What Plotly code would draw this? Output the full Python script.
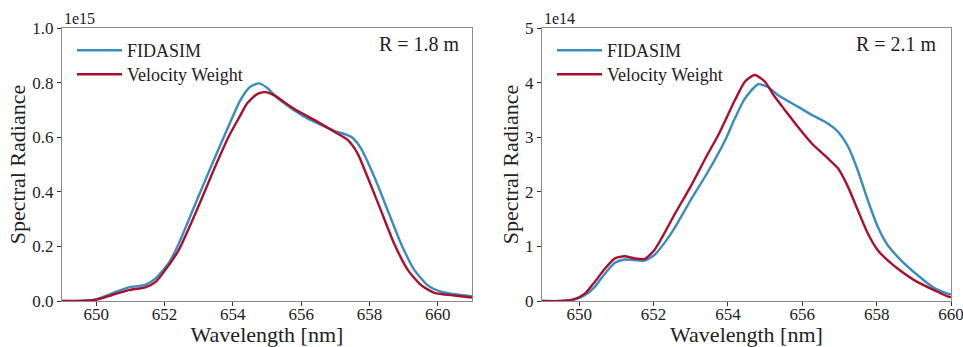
import plotly.graph_objects as go

# Left panel: R = 1.8 m (units 1e15)
wl_L_fid = [649.0, 649.5, 649.98, 650.47, 650.95, 651.44, 651.74, 652.13, 652.42, 652.91, 653.40, 653.89,
            654.22, 654.51, 654.76, 655.0, 655.3, 655.78, 656.2, 656.6, 656.97, 657.3, 657.5, 657.75, 658.14,
            658.53, 658.92, 659.31, 659.70, 660.09, 660.48, 661.0]
fid_L = [0.0, 0.0, 0.006, 0.028, 0.05, 0.059, 0.083, 0.14, 0.211, 0.358, 0.504, 0.645,
         0.736, 0.785, 0.797, 0.781, 0.744, 0.700, 0.668, 0.644, 0.623, 0.610, 0.598, 0.559, 0.455,
         0.333, 0.211, 0.114, 0.058, 0.034, 0.025, 0.018]
wl_L_vw = [649.0, 649.5, 649.98, 650.47, 650.95, 651.44, 651.74, 652.13, 652.42, 652.91, 653.40, 653.89,
           654.22, 654.42, 654.71, 654.95, 655.2, 655.78, 656.47, 656.97, 657.36, 657.65, 657.94, 658.33,
           658.72, 659.12, 659.51, 659.9, 660.48, 661.0]
vw_L = [0.0, 0.0, 0.004, 0.022, 0.04, 0.05, 0.07, 0.132, 0.187, 0.322, 0.468, 0.605,
        0.680, 0.724, 0.758, 0.765, 0.754, 0.705, 0.657, 0.620, 0.590, 0.541, 0.455, 0.333,
        0.211, 0.114, 0.058, 0.030, 0.020, 0.013]

# Right panel: R = 2.1 m (units 1e14)
wl_R_fid = [649.0, 649.5, 649.89, 650.16, 650.42, 650.69, 650.96, 651.22, 651.49, 651.76, 652.02, 652.29,
            652.56, 653.0, 653.44, 653.93, 654.19, 654.46, 654.81, 655.08, 655.35, 655.88, 656.25,
            656.69, 656.96, 657.23, 657.49, 657.76, 658.03, 658.29, 658.65, 659.09, 659.54, 659.89, 660.0]
fid_R = [0.0, 0.0, 0.03, 0.11, 0.26, 0.50, 0.70, 0.76, 0.75, 0.74, 0.84, 1.06,
         1.33, 1.85, 2.34, 2.95, 3.35, 3.71, 3.97, 3.92, 3.77, 3.56, 3.41,
         3.25, 3.10, 2.83, 2.40, 1.85, 1.36, 1.03, 0.75, 0.48, 0.24, 0.14, 0.12]
wl_R_vw = [649.0, 649.5, 649.89, 650.16, 650.42, 650.69, 650.96, 651.22, 651.49, 651.76, 652.02, 652.29,
           652.56, 653.0, 653.44, 653.75, 654.19, 654.46, 654.72, 654.99, 655.26, 655.53, 655.88, 656.25,
           656.69, 656.96, 657.23, 657.49, 657.76, 658.03, 658.29, 658.65, 659.09, 659.54, 659.89, 660.0]
vw_R = [0.0, 0.0, 0.04, 0.14, 0.35, 0.59, 0.78, 0.82, 0.78, 0.77, 0.93, 1.24,
        1.58, 2.10, 2.67, 3.05, 3.68, 4.02, 4.14, 4.02, 3.74, 3.50, 3.19, 2.89,
        2.61, 2.43, 2.09, 1.67, 1.24, 0.93, 0.75, 0.55, 0.35, 0.20, 0.09, 0.07]

yticks_L = [0.0, 0.2, 0.4, 0.6, 0.8, 1.0]
yticks_R = [0, 1, 2, 3, 4, 5]
xticks = [650, 652, 654, 656, 658, 660]

BLUE = "#3a8cc0"
RED = "#a8102f"
FONT = "'Liberation Serif', 'Times New Roman', serif"

W, H = 963, 347
L1, R1 = 62, 472
L2, R2 = 542, 951
TOP, BOT = 28, 301

def px(x):
    return x / W

def py(y):
    return 1 - y / H

fig = go.Figure()
line_kw = dict(width=2.4, shape="spline", smoothing=0.6)
fig.add_trace(go.Scatter(x=wl_L_fid, y=fid_L, mode="lines", name="FIDASIM",
                         line=dict(color=BLUE, **line_kw),
                         xaxis="x", yaxis="y", legend="legend"))
fig.add_trace(go.Scatter(x=wl_L_vw, y=vw_L, mode="lines", name="Velocity Weight",
                         line=dict(color=RED, **line_kw),
                         xaxis="x", yaxis="y", legend="legend2"))
fig.add_trace(go.Scatter(x=wl_R_fid, y=fid_R, mode="lines", name="FIDASIM",
                         line=dict(color=BLUE, **line_kw),
                         xaxis="x2", yaxis="y2", legend="legend3"))
fig.add_trace(go.Scatter(x=wl_R_vw, y=vw_R, mode="lines", name="Velocity Weight",
                         line=dict(color=RED, **line_kw),
                         xaxis="x2", yaxis="y2", legend="legend4"))

axis_common = dict(showline=True, mirror=True, linecolor="#8c8c8c", linewidth=1.2,
                   ticks="outside", ticklen=4, tickwidth=1, tickcolor="#333",
                   showgrid=False, zeroline=False, automargin=False,
                   ticklabeloverflow="allow",
                   tickfont=dict(family=FONT, size=17, color="#222"))
title_font = dict(family=FONT, size=22, color="#222")

def leg(x, y):
    return dict(x=px(x), y=py(y), xanchor="left", yanchor="top",
                bgcolor="rgba(0,0,0,0)", font=dict(family=FONT, size=18, color="#222"),
                tracegroupgap=0, itemwidth=45)

fig.update_layout(
    width=W, height=H, margin=dict(l=0, r=0, t=0, b=0, autoexpand=False),
    paper_bgcolor="white", plot_bgcolor="white",
    font=dict(family=FONT, color="#222"),
    xaxis=dict(domain=[px(L1), px(R1)], range=[649, 661], tickvals=xticks,
               anchor="y", ticklabelstandoff=-7,
               title=dict(text="Wavelength [nm]", font=title_font, standoff=0),
               **axis_common),
    yaxis=dict(domain=[py(BOT), py(TOP)], range=[0, 1.0], tickvals=yticks_L,
               ticktext=[f"{v:.1f}" for v in yticks_L], anchor="x",
               title=dict(text="Spectral Radiance", font=title_font, standoff=0),
               **axis_common),
    xaxis2=dict(domain=[px(L2), px(R2)], range=[649, 660], tickvals=xticks,
                anchor="y2", ticklabelstandoff=-7,
                title=dict(text="Wavelength [nm]", font=title_font, standoff=0),
                **axis_common),
    yaxis2=dict(domain=[py(BOT), py(TOP)], range=[0, 5], tickvals=yticks_R,
                ticktext=[str(v) for v in yticks_R], anchor="x2",
                title=dict(text="Spectral Radiance", font=title_font, standoff=0),
                **axis_common),
    legend=leg(L1 + 10, 32),
    legend2=leg(L1 + 10, 56),
    legend3=leg(L2 + 10, 32),
    legend4=leg(L2 + 10, 56),
    showlegend=True,
)

fig.add_annotation(text="1e15", x=px(L1), y=py(8), xref="paper", yref="paper",
                   xanchor="left", yanchor="top", showarrow=False,
                   font=dict(family=FONT, size=16, color="#222"))
fig.add_annotation(text="1e14", x=px(L2), y=py(8), xref="paper", yref="paper",
                   xanchor="left", yanchor="top", showarrow=False,
                   font=dict(family=FONT, size=16, color="#222"))
fig.add_annotation(text="R = 1.8 m", x=px(R1 - 10), y=py(TOP + 3), xref="paper", yref="paper",
                   xanchor="right", yanchor="top", showarrow=False,
                   font=dict(family=FONT, size=20, color="#222"))
fig.add_annotation(text="R = 2.1 m", x=px(R2 - 12), y=py(TOP + 3), xref="paper", yref="paper",
                   xanchor="right", yanchor="top", showarrow=False,
                   font=dict(family=FONT, size=20, color="#222"))

fig.write_html("out.html")
